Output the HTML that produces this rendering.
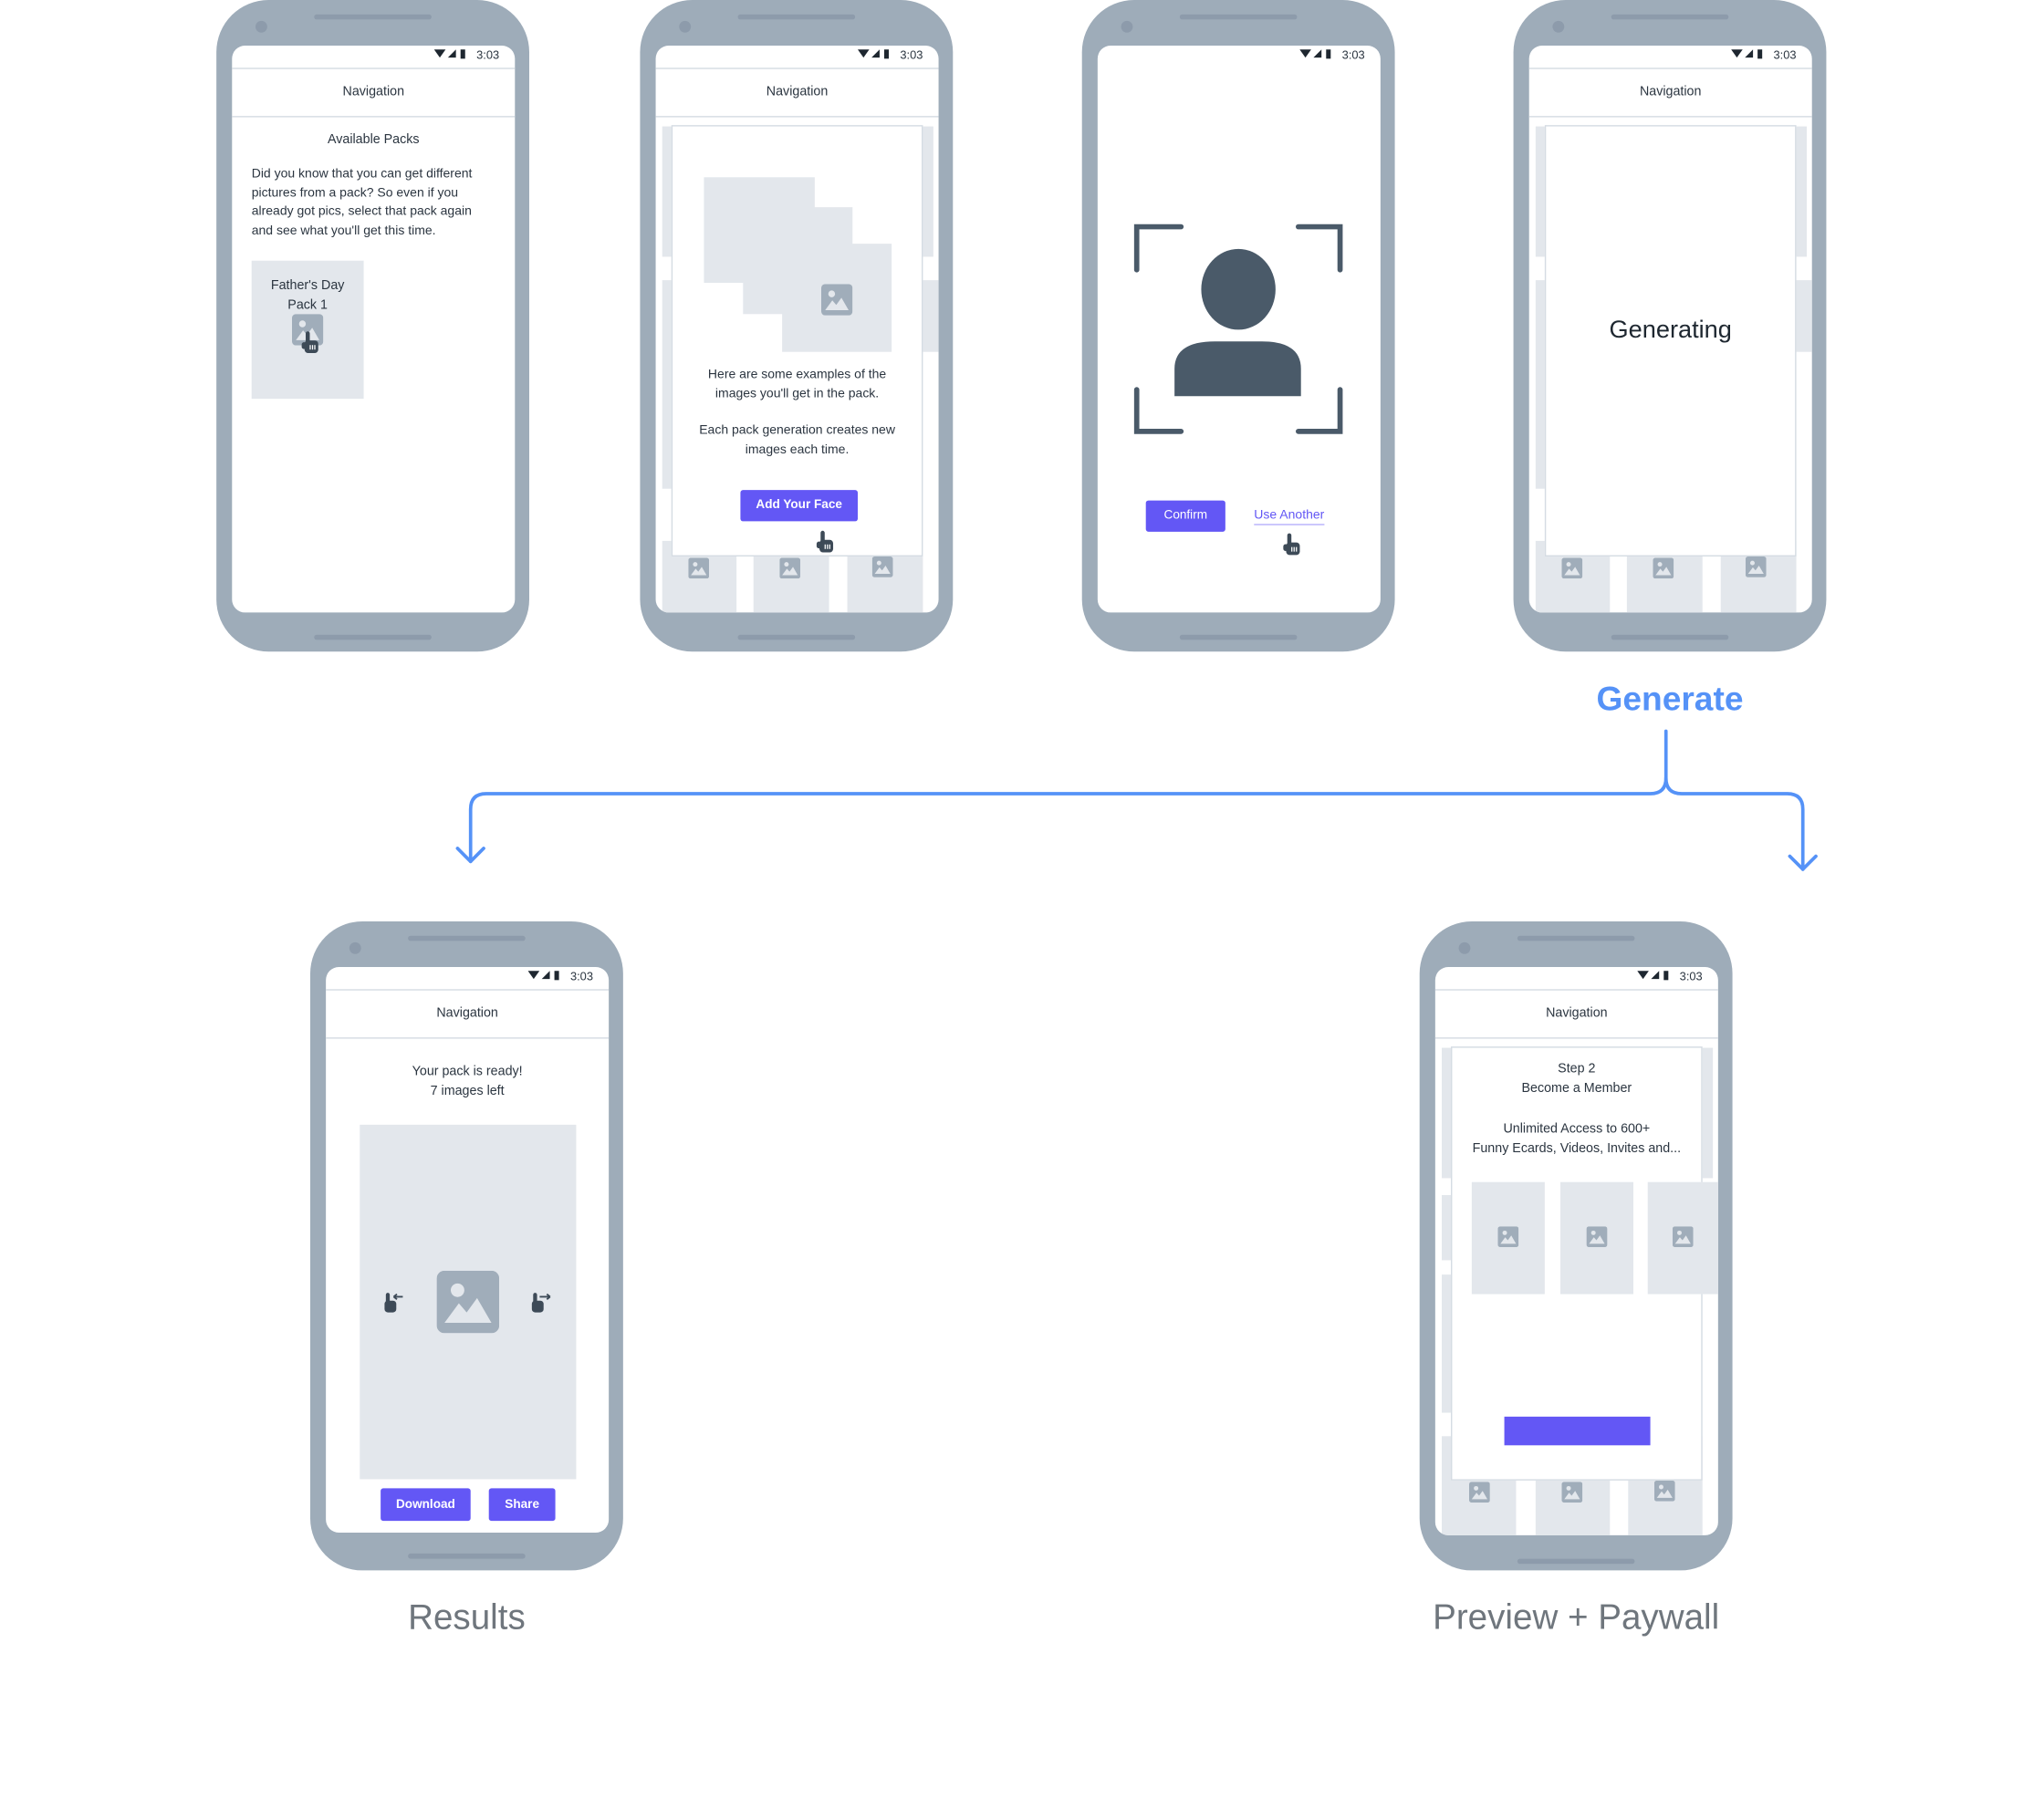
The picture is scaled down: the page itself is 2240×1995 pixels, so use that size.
<!DOCTYPE html>
<html><head><meta charset="utf-8"><style>
html,body{margin:0;padding:0;background:#fff;}
body{width:2240px;height:1995px;overflow:hidden;position:relative;font-family:"Liberation Sans",sans-serif;}
#w{position:absolute;left:0;top:0;width:1568px;height:1396.5px;transform:scale(1.42857);transform-origin:0 0;}
.ph{position:absolute;width:240px;height:500px;background:#9eacb9;border-radius:40px;}
.ph .spk{position:absolute;left:75px;top:11px;width:90px;height:4px;border-radius:2px;background:#8d9bab;}
.ph .bot{position:absolute;left:75px;top:487px;width:90px;height:4px;border-radius:2px;background:#8d9bab;}
.ph .cam{position:absolute;left:30px;top:16px;width:9px;height:9px;border-radius:50%;background:#8d9bab;}
.sc{position:absolute;left:12px;top:35px;width:217px;height:435px;background:#fff;border-radius:10px;overflow:hidden;}
.st{position:absolute;right:12px;top:2px;font-size:9px;color:#2b3540;}
.st svg{vertical-align:-1px;}
.nav{position:absolute;left:0;top:17px;width:217px;height:36px;border-top:1.5px solid #d5dce3;border-bottom:1.5px solid #d5dce3;text-align:center;line-height:36px;font-size:10px;color:#2b3540;}
.t{position:absolute;font-size:10px;color:#2b3540;text-align:center;line-height:14.5px;}
.g{position:absolute;background:#e3e7ec;}
.modal{position:absolute;background:#fff;border:1.5px solid #d5dce3;}
.btn{position:absolute;background:#6357f5;color:#fff;font-size:9.5px;font-weight:bold;text-align:center;border-radius:2px;}
.ic{position:absolute;}
.lbl{position:absolute;font-size:27px;color:#6f767d;text-align:center;}
</style></head><body><div id="w">

<svg width="0" height="0" style="position:absolute">
<defs>
<symbol id="img" viewBox="0 0 24 24"><rect x="0" y="0" width="24" height="24" rx="3" fill="#a0adba"/><circle cx="8" cy="7.5" r="2.6" fill="#e3e7ec"/><polygon points="3,20 8.5,12.5 11.5,16 15.5,10.5 21,20" fill="#e3e7ec"/></symbol>
<symbol id="hand" viewBox="0 0 16 20"><rect x="4" y="0" width="3.6" height="11" rx="1.8" fill="#3d4a57"/><rect x="3" y="8" width="12" height="11" rx="3" fill="#3d4a57"/><rect x="0.5" y="9.5" width="4" height="6" rx="2" fill="#3d4a57"/><rect x="7.5" y="12" width="1" height="4" fill="#fff"/><rect x="9.5" y="12" width="1" height="4" fill="#fff"/><rect x="11.5" y="12" width="1" height="4" fill="#fff"/></symbol>
<symbol id="stat" viewBox="0 0 34 10"><polygon points="0,1 10,1 5,8" fill="#1e2730"/><polygon points="12,8 19,1 19,8" fill="#1e2730"/><rect x="23" y="1" width="4" height="8" fill="#1e2730"/></symbol>
</defs></svg>

<!-- Phone 1 -->
<div class="ph" style="left:166px;top:0">
<div class="spk"></div><div class="cam"></div><div class="bot"></div>
<div class="sc">
<div class="st"><svg width="30" height="9"><use href="#stat"/></svg> 3:03</div>
<div class="nav">Navigation</div>
<div class="t" style="left:0;width:217px;top:66px;">Available Packs</div>
<div class="t" style="left:15px;width:200px;top:92px;text-align:left;font-size:9.8px;white-space:nowrap;">Did you know that you can get different<br>pictures from a pack? So even if you<br>already got pics, select that pack again<br>and see what you'll get this time.</div>
<div class="g" style="left:15px;top:165px;width:86px;height:106px;"></div>
<div class="t" style="left:15px;width:86px;top:178px;">Father's Day<br>Pack 1</div>
<svg class="ic" style="left:46px;top:206px" width="24" height="24"><use href="#img"/></svg>
<svg class="ic" style="left:53px;top:219px" width="14" height="18"><use href="#hand"/></svg>
</div></div>

<!-- Phone 2 -->
<div class="ph" style="left:491px;top:0">
<div class="spk"></div><div class="cam"></div><div class="bot"></div>
<div class="sc">
<div class="st"><svg width="30" height="9"><use href="#stat"/></svg> 3:03</div>
<div class="nav">Navigation</div>
<div class="g" style="left:5px;top:62px;width:8px;height:100px"></div>
<div class="g" style="left:5px;top:180px;width:8px;height:160px"></div>
<div class="g" style="left:205px;top:62px;width:8px;height:100px"></div>
<div class="g" style="left:205px;top:180px;width:12px;height:55px"></div>
<div class="g" style="left:5px;top:380px;width:57px;height:60px"></div>
<div class="g" style="left:75px;top:380px;width:58px;height:60px"></div>
<div class="g" style="left:147px;top:380px;width:58px;height:60px"></div>
<div class="modal" style="left:12px;top:61px;width:191px;height:329px;"></div>
<div class="g" style="left:37px;top:101px;width:85px;height:81px"></div>
<div class="g" style="left:67px;top:124px;width:84px;height:82px"></div>
<div class="g" style="left:97px;top:152px;width:84px;height:83px"></div>
<svg class="ic" style="left:127px;top:183px" width="24" height="24"><use href="#img"/></svg>
<div class="t" style="left:12px;width:193px;top:246px;font-size:9.8px;">Here are some examples of the<br>images you'll get in the pack.</div>
<div class="t" style="left:12px;width:193px;top:289px;font-size:9.8px;">Each pack generation creates new<br>images each time.</div>
<div class="btn" style="left:65px;top:341px;width:90px;height:24px;line-height:24px;">Add Your Face</div>
<svg class="ic" style="left:123px;top:372px" width="14" height="18"><use href="#hand"/></svg>
<svg class="ic" style="left:25px;top:393px" width="16" height="16"><use href="#img"/></svg>
<svg class="ic" style="left:95px;top:393px" width="16" height="16"><use href="#img"/></svg>
<svg class="ic" style="left:166px;top:392px" width="16" height="16"><use href="#img"/></svg>
</div></div>

<!-- Phone 3 -->
<div class="ph" style="left:830px;top:0">
<div class="spk"></div><div class="cam"></div><div class="bot"></div>
<div class="sc">
<div class="st"><svg width="30" height="9"><use href="#stat"/></svg> 3:03</div>
<svg style="position:absolute;left:0;top:0" width="217" height="435">
<g stroke="#4a5a69" stroke-width="4" fill="none" stroke-linecap="round">
<polyline points="30,172 30,139 64,139"/><polyline points="154,139 186,139 186,172"/>
<polyline points="30,264 30,296 64,296"/><polyline points="154,296 186,296 186,264"/>
</g>
<ellipse cx="108" cy="187" rx="28.5" ry="31" fill="#4a5a69"/>
<path d="M59,269 V248 Q59,227 90,227 H126 Q156,227 156,248 V269 Z" fill="#4a5a69"/>
</svg>
<div class="btn" style="left:37px;top:349px;width:61px;height:24px;line-height:24px;font-weight:normal;">Confirm</div>
<div class="t" style="left:120px;top:355px;font-size:9.8px;color:#6357f5;border-bottom:1px solid #b7b1fa;line-height:12px;">Use Another</div>
<svg class="ic" style="left:142px;top:374px" width="14" height="18"><use href="#hand"/></svg>
</div></div>

<!-- Phone 4 -->
<div class="ph" style="left:1161px;top:0">
<div class="spk"></div><div class="cam"></div><div class="bot"></div>
<div class="sc">
<div class="st"><svg width="30" height="9"><use href="#stat"/></svg> 3:03</div>
<div class="nav">Navigation</div>
<div class="g" style="left:5px;top:62px;width:8px;height:100px"></div>
<div class="g" style="left:5px;top:180px;width:8px;height:160px"></div>
<div class="g" style="left:205px;top:62px;width:8px;height:100px"></div>
<div class="g" style="left:205px;top:180px;width:12px;height:55px"></div>
<div class="g" style="left:5px;top:380px;width:57px;height:60px"></div>
<div class="g" style="left:75px;top:380px;width:58px;height:60px"></div>
<div class="g" style="left:147px;top:380px;width:58px;height:60px"></div>
<div class="modal" style="left:12px;top:61px;width:191px;height:329px;"></div>
<div class="t" style="left:12px;width:193px;top:207px;font-size:19px;line-height:24px;color:#1e2730;">Generating</div>
<svg class="ic" style="left:25px;top:393px" width="16" height="16"><use href="#img"/></svg>
<svg class="ic" style="left:95px;top:393px" width="16" height="16"><use href="#img"/></svg>
<svg class="ic" style="left:166px;top:392px" width="16" height="16"><use href="#img"/></svg>
</div></div>

<!-- Generate + connector -->
<div style="position:absolute;left:1180px;width:202px;top:521px;text-align:center;font-size:26px;font-weight:bold;color:#5592f7;">Generate</div>
<svg style="position:absolute;left:0;top:0" width="1568" height="700">
<g stroke="#5592f7" stroke-width="2.6" fill="none" stroke-linecap="round" stroke-linejoin="round">
<path d="M1278,561 V597 Q1278,609 1266,609 H373 Q361,609 361,621 V661"/>
<path d="M1278,597 Q1278,609 1290,609 H1371 Q1383,609 1383,621 V667"/>
<polyline points="351,651 361,661 371,651"/>
<polyline points="1373,657 1383,667 1393,657"/>
</g></svg>

<!-- Phone 5 -->
<div class="ph" style="left:238px;top:707px;height:498px">
<div class="spk"></div><div class="cam"></div><div class="bot" style="top:485px"></div>
<div class="sc" style="height:434px">
<div class="st"><svg width="30" height="9"><use href="#stat"/></svg> 3:03</div>
<div class="nav">Navigation</div>
<div class="t" style="left:0;width:217px;top:74px;">Your pack is ready!<br>7 images left</div>
<div class="g" style="left:26px;top:121px;width:166px;height:272px"></div>
<svg class="ic" style="left:85px;top:233px" width="48" height="48"><use href="#img"/></svg>
<svg class="ic" style="left:44px;top:249px" width="18" height="18" viewBox="0 0 18 18"><rect x="2" y="1" width="3" height="9" rx="1.5" fill="#3d4a57"/><rect x="1" y="7" width="9" height="9" rx="2.5" fill="#3d4a57"/><path d="M8,4 H15 M8,4 L10.5,2 M8,4 L10.5,6" stroke="#3d4a57" stroke-width="1.3" fill="none"/></svg>
<svg class="ic" style="left:157px;top:249px" width="18" height="18" viewBox="0 0 18 18"><rect x="2" y="1" width="3" height="9" rx="1.5" fill="#3d4a57"/><rect x="1" y="7" width="9" height="9" rx="2.5" fill="#3d4a57"/><path d="M7,4 H15 M15,4 L12.5,2 M15,4 L12.5,6" stroke="#3d4a57" stroke-width="1.3" fill="none"/></svg>
<div class="btn" style="left:42px;top:400px;width:69px;height:25px;line-height:25px;">Download</div>
<div class="btn" style="left:125px;top:400px;width:51px;height:25px;line-height:25px;">Share</div>
</div></div>

<!-- Phone 6 -->
<div class="ph" style="left:1089px;top:707px;height:498px">
<div class="spk"></div><div class="cam"></div><div class="bot" style="top:489px"></div>
<div class="sc" style="height:436px">
<div class="st"><svg width="30" height="9"><use href="#stat"/></svg> 3:03</div>
<div class="nav">Navigation</div>
<div class="g" style="left:5px;top:62px;width:8px;height:100px"></div>
<div class="g" style="left:5px;top:175px;width:8px;height:50px"></div>
<div class="g" style="left:5px;top:236px;width:8px;height:106px"></div>
<div class="g" style="left:205px;top:62px;width:8px;height:100px"></div>
<div class="g" style="left:5px;top:360px;width:57px;height:80px"></div>
<div class="g" style="left:77px;top:360px;width:57px;height:80px"></div>
<div class="g" style="left:148px;top:360px;width:57px;height:80px"></div>
<div class="modal" style="left:12px;top:61px;width:191px;height:331px;"></div>
<div class="t" style="left:12px;width:193px;top:72px;">Step 2<br>Become a Member</div>
<div class="t" style="left:12px;width:193px;top:118px;">Unlimited Access to 600+<br>Funny Ecards, Videos, Invites and...</div>
<div class="g" style="left:28px;top:165px;width:56px;height:86px"></div>
<div class="g" style="left:96px;top:165px;width:56px;height:86px"></div>
<div class="g" style="left:163px;top:165px;width:56px;height:86px"></div>
<svg class="ic" style="left:48px;top:199px" width="16" height="16"><use href="#img"/></svg>
<svg class="ic" style="left:116px;top:199px" width="16" height="16"><use href="#img"/></svg>
<svg class="ic" style="left:182px;top:199px" width="16" height="16"><use href="#img"/></svg>
<div style="position:absolute;left:53px;top:345px;width:112px;height:22px;background:#6357f5;"></div>
<svg class="ic" style="left:26px;top:395px" width="16" height="16"><use href="#img"/></svg>
<svg class="ic" style="left:97px;top:395px" width="16" height="16"><use href="#img"/></svg>
<svg class="ic" style="left:168px;top:394px" width="16" height="16"><use href="#img"/></svg>
</div></div>

<div class="lbl" style="left:238px;width:240px;top:1226px;">Results</div>
<div class="lbl" style="left:1059px;width:300px;top:1226px;">Preview + Paywall</div>

</div></body></html>
